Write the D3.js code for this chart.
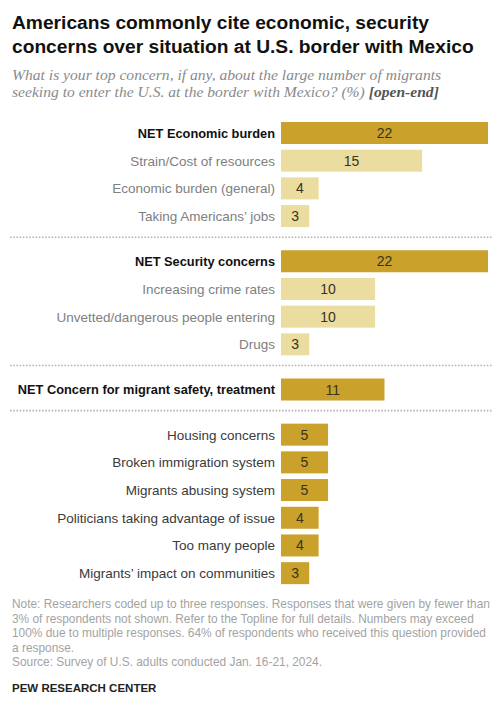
<!DOCTYPE html>
<html>
<head>
<meta charset="utf-8">
<script src="https://cdn.jsdelivr.net/npm/d3@7"></script>
<style>
  body { margin: 0; background: #fff; }
  svg { display: block; }
</style>
</head>
<body>
<svg id="chart" width="493" height="702"></svg>
<script>
// chart data
const categories = [
    "NET Economic burden", "Strain/Cost of resources", "Economic burden (general)", "Taking Americans\u2019 jobs",
    "NET Security concerns", "Increasing crime rates", "Unvetted/dangerous people entering", "Drugs",
    "NET Concern for migrant safety, treatment",
    "Housing concerns", "Broken immigration system", "Migrants abusing system",
    "Politicians taking advantage of issue", "Too many people", "Migrants\u2019 impact on communities"
]
const values = [22, 15, 4, 3, 22, 10, 10, 3, 11, 5, 5, 5, 4, 4, 3]
const isNet = [1, 0, 0, 0, 1, 0, 0, 0, 1, 0, 0, 0, 0, 0, 0]
const shade = ["dark", "light", "light", "light", "dark", "light", "light", "light", "dark", "dark", "dark", "dark", "dark", "dark", "dark"]
const groupOf = [0, 0, 0, 0, 1, 1, 1, 1, 2, 3, 3, 3, 3, 3, 3]

const titleLines = [
    "Americans commonly cite economic, security",
    "concerns over situation at U.S. border with Mexico"
]
const subtitleLines = [
    "What is your top concern, if any, about the large number of migrants",
    "seeking to enter the U.S. at the border with Mexico? (%) "
]
const noteLines = [
    "Note: Researchers coded up to three responses. Responses that were given by fewer than",
    "3% of respondents not shown. Refer to the Topline for full details. Numbers may exceed",
    "100% due to multiple responses. 64% of respondents who received this question provided",
    "a response.",
    "Source: Survey of U.S. adults conducted Jan. 16-21, 2024."
]

const svg = d3.select("#chart")
const sans = "'Liberation Sans', Arial, sans-serif"
const colors = { dark: "#C9A12B", light: "#EBDCA0" }

// title
svg.append("g").selectAll("text")
    .data(titleLines)
    .join("text")
    .attr("x", 12)
    .attr("y", (d, i) => 29 + i * 24)
    .attr("font-family", sans)
    .attr("font-weight", "bold")
    .attr("font-size", 19.2)
    .attr("fill", "#111")
    .text(d => d)

// subtitle
const sub = svg.append("g").selectAll("text")
    .data(subtitleLines)
    .join("text")
    .attr("x", 12)
    .attr("y", (d, i) => 80 + i * 17)
    .attr("font-family", "'Liberation Serif', 'DejaVu Serif', serif")
    .attr("font-style", "italic")
    .attr("font-size", 15.6)
    .attr("fill", "#8a8a8a")
    .text(d => d)
sub.filter((d, i) => i === 1)
    .append("tspan")
    .attr("font-weight", "bold")
    .attr("fill", "#555")
    .text("[open-end]")

// scales
const x = d3.scaleLinear().domain([0, 22]).range([281, 488])
const groupGap = 0.63
const y = d3.scaleLinear().domain([0, 1]).range([133, 160.7])
const rowPos = categories.map((c, i) => y(i + groupOf[i] * groupGap))
const barH = 22

// dotted separators between groups
const seps = [0, 1, 2].map(g => {
    const last = groupOf.lastIndexOf(g)
    return (rowPos[last] + rowPos[last + 1]) / 2 - 1.5
})
svg.append("g").selectAll("line")
    .data(seps)
    .join("line")
    .attr("x1", 10)
    .attr("x2", 493)
    .attr("y1", d => d)
    .attr("y2", d => d)
    .attr("stroke", "#b5b5b5")
    .attr("stroke-width", 1.6)
    .attr("stroke-dasharray", "1.6,1.6")

// bars
const rows = svg.append("g").selectAll("g")
    .data(categories)
    .join("g")
    .attr("transform", (d, i) => `translate(0,${rowPos[i]})`)

rows.append("rect")
    .attr("x", x(0))
    .attr("y", -barH / 2)
    .attr("width", (d, i) => x(values[i]) - x(0))
    .attr("height", barH)
    .attr("fill", (d, i) => colors[shade[i]])

rows.append("text")
    .attr("x", (d, i) => (x(0) + x(values[i])) / 2)
    .attr("dy", "0.36em")
    .attr("text-anchor", "middle")
    .attr("font-family", sans)
    .attr("font-size", 14)
    .attr("fill", "#3a3320")
    .text((d, i) => values[i])

rows.append("text")
    .attr("x", 275)
    .attr("dy", "0.36em")
    .attr("text-anchor", "end")
    .attr("font-family", sans)
    .attr("font-size", (d, i) => isNet[i] ? 12.8 : 13.5)
    .attr("font-weight", (d, i) => isNet[i] ? "bold" : "normal")
    .attr("fill", (d, i) => isNet[i] ? "#111" : (groupOf[i] === 3 ? "#3a3a3a" : "#808080"))
    .text(d => d)

// note and source
svg.append("g").selectAll("text")
    .data(noteLines)
    .join("text")
    .attr("x", 12)
    .attr("y", (d, i) => 608 + i * 14.5)
    .attr("font-family", sans)
    .attr("font-size", 11.9)
    .attr("fill", "#a3a3a3")
    .text(d => d)

svg.append("text")
    .attr("x", 12)
    .attr("y", 692)
    .attr("font-family", sans)
    .attr("font-weight", "bold")
    .attr("font-size", 11.5)
    .attr("fill", "#222")
    .text("PEW RESEARCH CENTER")
</script>
</body>
</html>
